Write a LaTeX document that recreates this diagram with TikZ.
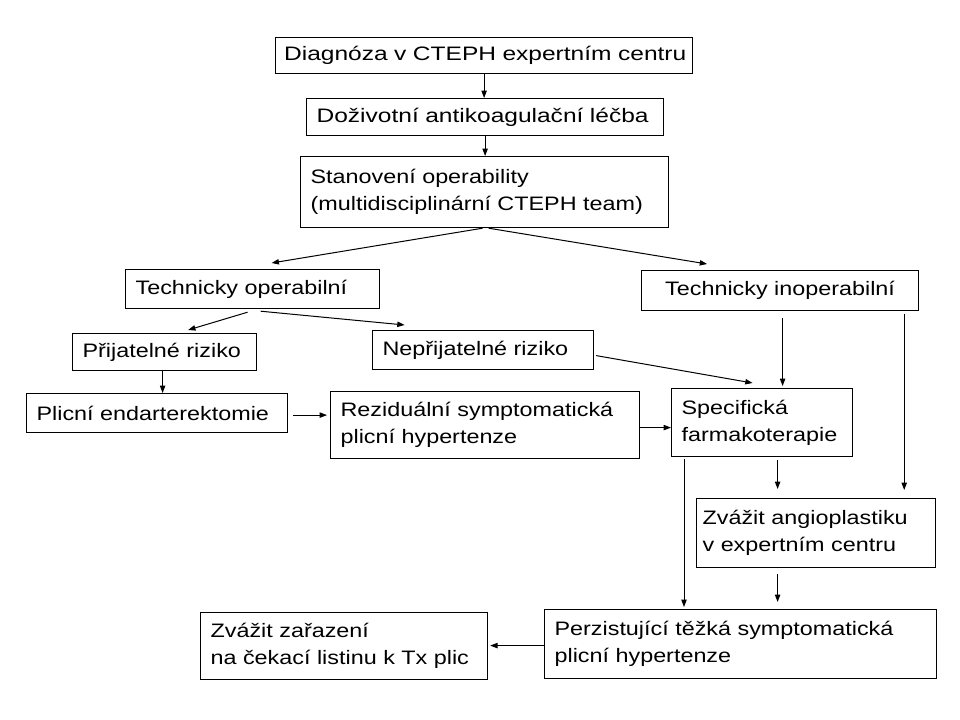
\documentclass[tikz,border=0pt]{standalone}
\usepackage{fontspec}
\setmainfont{Liberation Sans}[FakeStretch=1.2]
\newfontfamily\widefont{Liberation Sans}[FakeStretch=1.26]
\usetikzlibrary{arrows.meta,calc}

\begin{document}
\begin{tikzpicture}[x=0.75pt,y=-0.75pt,
        box/.style={draw, line width=0.9pt, anchor=north west, inner xsep=7.5pt, inner ysep=0pt,
                align=left, font=\fontsize{14.6}{20.6}\selectfont},
        widebox/.style={box, font=\widefont\fontsize{14.6}{20.6}\selectfont},
        arr/.style={-{Triangle[length=5.5pt,width=4pt]}, line width=0.75pt}]
        \useasboundingbox (0,0) rectangle (960,720);

        % boxes
        \node[widebox, text width=300pt, minimum height=27pt, inner xsep=6.375pt] (diag) at (275,37) {\mbox{Diagnóza v CTEPH expertním centru}};
        \node[widebox, text width=252.75pt, minimum height=27.75pt] (antikoag) at (306,98) {Doživotní antikoagulační léčba};
        \node[box, text width=261pt, minimum height=53.25pt] (operab) at (300,156) {Stanovení operability\\(multidisciplinární CTEPH team)};
        \node[box, text width=175.5pt, minimum height=29.25pt] (techop) at (125,269) {Technicky operabilní};
        \node[box, text width=192.75pt, minimum height=30pt, align=center] (techinop) at (641,270) {Technicky inoperabilní};
        \node[box, text width=123pt, minimum height=27.75pt] (prijat) at (72,333) {Přijatelné riziko};
        \node[box, text width=150.75pt, minimum height=29.25pt] (neprijat) at (372,330) {Nepřijatelné riziko};
        \node[box, text width=180.75pt, minimum height=29.25pt] (pea) at (26,393) {Plicní endarterektomie};
        \node[box, text width=216.75pt, minimum height=50.25pt] (rezid) at (330,391) {Reziduální symptomatická\\plicní hypertenze};
        \node[box, text width=120.75pt, minimum height=51pt] (farmako) at (671,388) {Specifická\\farmakoterapie};
        \node[box, text width=170.25pt, minimum height=51.75pt, inner xsep=4.5pt] (bpa) at (696,498) {Zvážit angioplastiku\\v expertním centru};
        \node[box, text width=279pt, minimum height=51.75pt] (perzist) at (544,609) {Perzistující těžká symptomatická\\plicní hypertenze};
        \node[box, text width=200.25pt, minimum height=50.25pt] (tx) at (200,612) {Zvážit zařazení\\na čekací listinu k Tx plic};

        % arrows
        \draw[arr] (diag.south) -- (diag.south |- antikoag.north);
        \draw[arr] (antikoag.south) -- (antikoag.south |- operab.north);
        \draw[arr] ($(operab.south)+(-2,0)$) -- ($(techop.north)+(19,-6)$);
        \draw[arr] ($(operab.south)+(4,0)$) -- ($(techinop.north)+(-73,-6)$);
        \draw[arr] ($(techop.south)+(-5,3)$) -- ($(prijat.north)+(23.5,-3)$);
        \draw[arr] ($(techop.south)+(8,2)$) -- ($(neprijat.north)+(-78.5,-5)$);
        \draw[arr] ($(neprijat.east)+(2,5.5)$) -- ($(farmako.north)+(-9.5,-5)$);
        \draw[arr] ($(techinop.south)+(2.5,7)$) coordinate (t1) -- ($(t1 |- farmako.north)+(0,-2)$);
        \draw[arr] ($(techinop.south east)+(-15,3)$) coordinate (t2) -- ($(t2 |- bpa.north)+(0,-8)$);
        \draw[arr] ($(prijat.south)+(-2,0)$) coordinate (p1) -- (p1 |- pea.north);
        \draw[arr] ($(pea.east)+(5,2)$) coordinate (p2) -- ($(p2 -| rezid.west)+(-3,0)$);
        \draw[arr] ($(rezid.east)+(0,2.5)$) coordinate (r1) -- (r1 -| farmako.west);
        \draw[arr] ($(farmako.south west)+(13,2)$) coordinate (f1) -- ($(f1 |- perzist.north)+(0,-2)$);
        \draw[arr] ($(farmako.south)+(15.5,3)$) coordinate (f2) -- ($(f2 |- bpa.north)+(0,-9)$);
        \draw[arr] ($(f2 |- bpa.south)+(0,6)$) coordinate (b1) -- ($(b1 |- perzist.north)+(0,-7)$);
        \draw[arr] ($(perzist.west)+(0,1.5)$) coordinate (z1) -- ($(z1 -| tx.east)+(2,0)$);
\end{tikzpicture}
\end{document}
